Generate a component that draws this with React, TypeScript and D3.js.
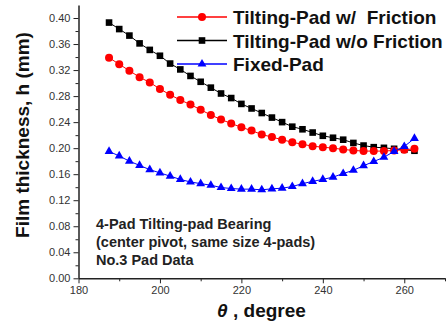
import { useEffect, useRef } from 'react'
import * as d3 from 'd3'

const WIDTH = 447
const HEIGHT = 324
const FONT = '"Liberation Sans", Arial, sans-serif'

// ── Data ──────────────────────────────────────────────────────────────────────
const theta = [
  187.5, 190, 192.5, 195, 197.5, 200, 202.5, 205, 207.5, 210, 212.5, 215, 217.5, 220, 222.5,
  225, 227.5, 230, 232.5, 235, 237.5, 240, 242.5, 245, 247.5, 250, 252.5, 255, 257.5, 260, 262.5,
]
const withFriction = [
  0.339, 0.329, 0.319, 0.309, 0.301, 0.291, 0.282, 0.274, 0.267, 0.259, 0.251, 0.244, 0.238, 0.232, 0.227,
  0.221, 0.217, 0.213, 0.209, 0.206, 0.203, 0.2015, 0.2, 0.198, 0.1965, 0.1955, 0.1955, 0.1955, 0.1965, 0.1975, 0.199,
]
const withoutFriction = [
  0.393, 0.383, 0.373, 0.361, 0.351, 0.342, 0.33, 0.321, 0.311, 0.302, 0.293, 0.284, 0.277, 0.268, 0.261,
  0.254, 0.247, 0.24, 0.233, 0.229, 0.224, 0.219, 0.216, 0.213, 0.208, 0.204, 0.2015, 0.2005, 0.199, 0.1975, 0.196,
]
const fixedPad = [
  0.195, 0.188, 0.18, 0.1735, 0.167, 0.162, 0.157, 0.152, 0.148, 0.1455, 0.143, 0.1395, 0.138, 0.137, 0.137,
  0.136, 0.1375, 0.1385, 0.141, 0.1455, 0.149, 0.152, 0.1555, 0.161, 0.166, 0.173, 0.1795, 0.186, 0.195, 0.2025, 0.215,
]
const seriesLabels = ['Tilting-Pad w/  Friction', 'Tilting-Pad w/o Friction', 'Fixed-Pad']
const seriesColors = ['#FF0000', '#000000', '#0000FF']
const seriesShapes = ['circle', 'square', 'triangle']
const xTicks = [180, 200, 220, 240, 260]
const yTicks = [0, 0.04, 0.08, 0.12, 0.16, 0.2, 0.24, 0.28, 0.32, 0.36, 0.4]
const noteLines = ['4-Pad Tilting-pad Bearing', '(center pivot, same size 4-pads)', 'No.3 Pad Data']

export default function App() {
  const svgRef = useRef<SVGSVGElement>(null)

  useEffect(() => {
    const svgEl = svgRef.current
    if (!svgEl) return
    const svg = d3.select(svgEl)
    svg.selectAll('*').remove()

    const x = d3.scaleLinear([180, 270], [78.5, 445])
    const y = d3.scaleLinear([0, 0.42], [278.3, 5])

    // ── Axes ──────────────────────────────────────────────────────────────────
    const axisColor = '#222'
    const xAxis = svg.append('g').attr('transform', `translate(0,${y(0)})`)
    xAxis.call(d3.axisBottom(x).tickValues(d3.range(190, 271, 20)).tickSize(3).tickFormat(() => ''))
      .call(ag => ag.select('.domain').remove())
    xAxis.append('g').call(d3.axisBottom(x).tickValues(xTicks).tickSize(5).tickSizeOuter(0).tickFormat(d3.format('d')))
      .call(ag => ag.select('.domain').attr('stroke-width', 1.5))
    xAxis.selectAll('.tick line').attr('stroke', axisColor)
    xAxis.selectAll('.domain').attr('stroke', axisColor)
    xAxis.selectAll('text').attr('fill', '#333').attr('font-size', 11).attr('font-family', FONT)

    const yAxis = svg.append('g').attr('transform', `translate(${x(180)},0)`)
    yAxis.call(d3.axisLeft(y).tickValues(d3.range(0.02, 0.42, 0.04)).tickSize(3).tickFormat(() => ''))
      .call(ag => ag.select('.domain').remove())
    yAxis.append('g').call(d3.axisLeft(y).tickValues(yTicks).tickSize(5).tickSizeOuter(0).tickFormat(d3.format('.2f')))
      .call(ag => ag.select('.domain').attr('stroke-width', 1.5))
    yAxis.selectAll('.tick line').attr('stroke', axisColor)
    yAxis.selectAll('.domain').attr('stroke', axisColor)
    yAxis.selectAll('text').attr('fill', '#333').attr('font-size', 11).attr('font-family', FONT)

    // ── Axis titles ───────────────────────────────────────────────────────────
    svg.append('text')
      .attr('transform', `translate(29,135) rotate(-90)`)
      .attr('text-anchor', 'middle').attr('font-family', FONT).attr('font-weight', 'bold')
      .attr('font-size', 19).attr('fill', '#111')
      .text('Film thickness, h (mm)')

    const xt = svg.append('text')
      .attr('x', 261.5).attr('y', 317)
      .attr('text-anchor', 'middle').attr('font-family', FONT).attr('font-weight', 'bold')
      .attr('font-size', 19).attr('fill', '#111')
    xt.append('tspan').attr('font-style', 'italic').text('θ')
    xt.append('tspan').text(' , degree')

    // ── Markers ───────────────────────────────────────────────────────────────
    const drawMarker = (g: d3.Selection<SVGGElement, unknown, null, undefined>, shape: string, color: string, cx: number, cy: number) => {
      if (shape === 'circle') {
        g.append('circle').attr('cx', cx).attr('cy', cy).attr('r', 4).attr('fill', color)
      } else if (shape === 'square') {
        g.append('rect').attr('x', cx - 3.3).attr('y', cy - 3.3).attr('width', 6.6).attr('height', 6.6).attr('fill', color)
      } else {
        g.append('path')
          .attr('d', d3.symbol(d3.symbolTriangle, 34)())
          .attr('transform', `translate(${cx},${cy})`).attr('fill', color)
      }
    }

    // ── Series ────────────────────────────────────────────────────────────────
    const lineGen = d3.line<number>().x((_, i) => x(theta[i])).y(d => y(d))
    const allSeries = [withFriction, withoutFriction, fixedPad]
    const drawOrder = [1, 0, 2]
    drawOrder.forEach(si => {
      const g = svg.append('g')
      g.append('path')
        .attr('d', lineGen(allSeries[si]) ?? '')
        .attr('fill', 'none').attr('stroke', seriesColors[si]).attr('stroke-width', 1)
      allSeries[si].forEach((v, i) => drawMarker(g, seriesShapes[si], seriesColors[si], x(theta[i]), y(v)))
    })

    // ── Legend ────────────────────────────────────────────────────────────────
    seriesLabels.forEach((label, i) => {
      const ly = 17 + i * 23.5
      const g = svg.append('g')
      g.append('line')
        .attr('x1', 177).attr('x2', 227).attr('y1', ly).attr('y2', ly)
        .attr('stroke', seriesColors[i]).attr('stroke-width', 1.5)
      drawMarker(g, seriesShapes[i], seriesColors[i], 202, ly)
      g.append('text')
        .attr('x', 233).attr('y', ly + 7)
        .attr('font-family', FONT).attr('font-weight', 'bold').attr('font-size', 19)
        .attr('fill', '#111').style('white-space', 'pre')
        .text(label)
    })

    // ── Note ──────────────────────────────────────────────────────────────────
    noteLines.forEach((line, i) => {
      svg.append('text')
        .attr('x', 96).attr('y', 229 + i * 18)
        .attr('font-family', FONT).attr('font-weight', 'bold').attr('font-size', 14.5)
        .attr('fill', '#222')
        .text(line)
    })
  }, [])

  return (
    <svg
      ref={svgRef}
      width={WIDTH}
      height={HEIGHT}
      style={{ position: 'absolute', left: 0, top: 0, background: '#fff' }}
    />
  )
}
